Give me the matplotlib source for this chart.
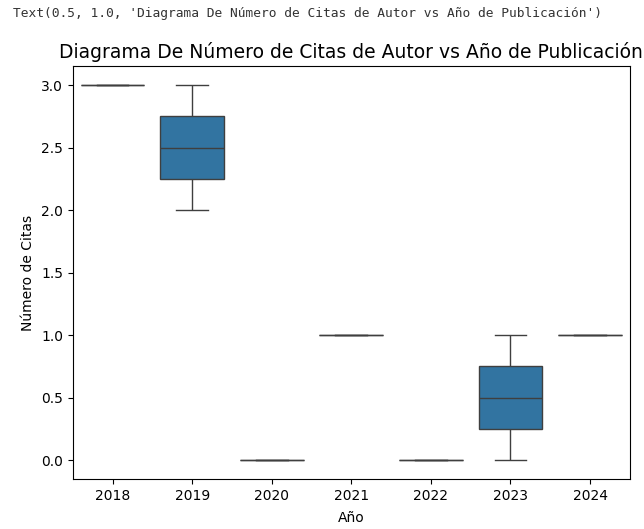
import matplotlib
matplotlib.use("Agg")
import matplotlib.pyplot as plt
import seaborn as sns
import pandas as pd

years = [2018, 2019, 2019, 2020, 2021, 2022, 2023, 2023, 2024]
citas = [3, 2, 3, 0, 1, 0, 0, 1, 1]

df = pd.DataFrame({"Año": years, "Número de Citas": citas})

fig = plt.figure(figsize=(6.44, 5.29), dpi=100)
ax = fig.add_axes([0.113, 0.0945, 0.865, 0.78])
sns.boxplot(data=df, x="Año", y="Número de Citas", ax=ax)
title = "Diagrama De Número de Citas de Autor vs Año de Publicación"
ax.set_title(title, fontsize=13.5)
ax.set_xlabel("Año", labelpad=6)
fig.text(0.02, 0.975, f"Text(0.5, 1.0, '{title}')",
         family="DejaVu Sans Mono", fontsize=9.3, va="center", ha="left", color="#333333")
fig.savefig("out.png", dpi=100)
